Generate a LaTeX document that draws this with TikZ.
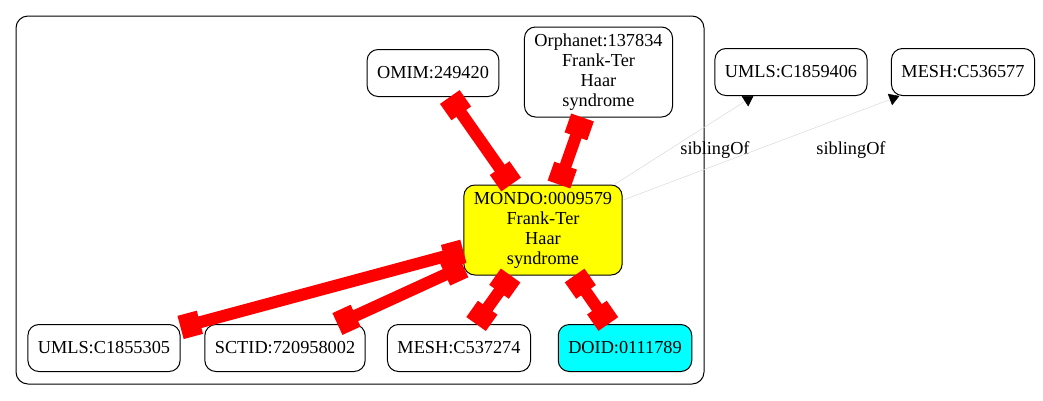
\documentclass[tikz,border=0pt]{standalone}
\usepackage{fontspec}
\setmainfont{Liberation Serif}
\usetikzlibrary{arrows.meta,positioning,shapes}
\definecolor{gvyellow}{RGB}{255,255,0}
\definecolor{gvcyan}{RGB}{0,255,255}
\definecolor{gvred}{RGB}{255,0,0}

\begin{document}
\begin{tikzpicture}[x = 1pt, y = -1pt,
    term/.style = {draw, rounded corners = 11pt, line width = 1pt, align = center,
                   inner xsep = 10pt, minimum height = 47pt, font = \fontsize{18.3}{20}\selectfont},
    tall/.style = {minimum height = 90pt},
    xref/.style = {{Square[length = 20pt, width = 24pt]}-{Square[length = 20pt, width = 24pt]},
                   draw = gvred, line width = 12pt},
    sib/.style = {-{Triangle[length = 10pt, width = 12pt, black]}, draw = black!15, line width = .5pt},
    lbl/.style = {font = \fontsize{18.3}{20}\selectfont}]
    \useasboundingbox (0,0) rectangle (1043,400);
    \draw[rounded corners = 12pt, line width = 1pt] (16,16) rectangle (704,384);
    \node[term] (omim) at (433,73) {OMIM:249420};
    \node[term, tall] (orpha) at (598.5,72) {Orphanet:137834\\Frank-Ter\\Haar\\syndrome};
    \node[term] (umlsa) at (791,72) {UMLS:C1859406};
    \node[term] (mesha) at (963,72) {MESH:C536577};
    \node[term, tall, fill = gvyellow] (mondo) at (543,230) {MONDO:0009579\\Frank-Ter\\Haar\\syndrome};
    \node[term] (umlsb) at (104,348) {UMLS:C1855305};
    \node[term] (sctid) at (285,348) {SCTID:720958002};
    \node[term] (meshb) at (459,348) {MESH:C537274};
    \node[term, fill = gvcyan] (doid) at (625,348) {DOID:0111789};
    \draw[xref] (omim) -- (mondo);
    \draw[xref] (orpha) -- (mondo);
    \draw[xref] (mondo) -- (umlsb);
    \draw[xref] (mondo) -- (sctid);
    \draw[xref] (mondo) -- (meshb);
    \draw[xref] (mondo) -- (doid);
    \draw[sib] (mondo) -- (umlsa) node[lbl] (siba) at (715,150) {siblingOf};
    \draw[sib] (mondo) -- (mesha) node[lbl] (sibb) at (851,150) {siblingOf};
\end{tikzpicture}
\end{document}
